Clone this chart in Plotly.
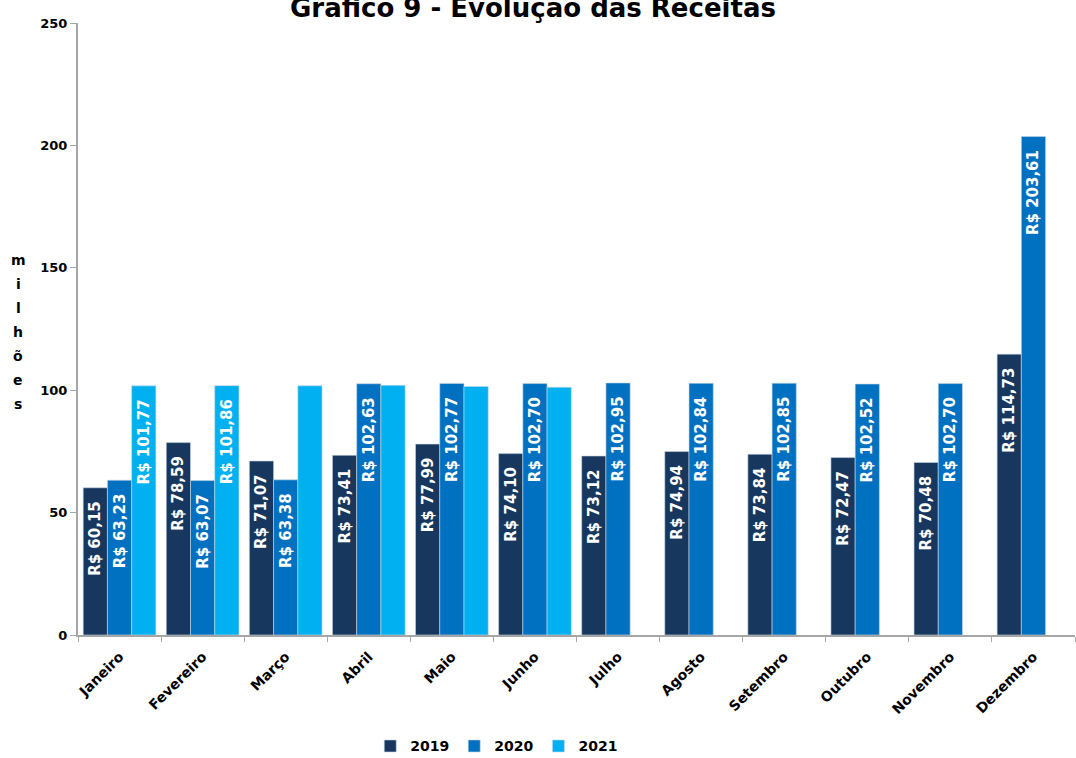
import plotly.graph_objects as go

meses = ["Janeiro", "Fevereiro", "Março", "Abril", "Maio", "Junho", "Julho",
         "Agosto", "Setembro", "Outubro", "Novembro", "Dezembro"]
v2019 = [60.15, 78.59, 71.07, 73.41, 77.99, 74.10, 73.12, 74.94, 73.84, 72.47, 70.48, 114.73]
v2020 = [63.23, 63.07, 63.38, 102.63, 102.77, 102.70, 102.95, 102.84, 102.85, 102.52, 102.70, 203.61]
v2021 = [101.77, 101.86, 101.8, 102.0, 101.5, 101.2, None, None, None, None, None, None]
lab2021 = [True, True, False, False, False, False, False, False, False, False, False, False]
eixo_y_titulo = "milhões"

cores = {"2019": "#17375E", "2020": "#0070C0", "2021": "#00B0F0"}

def fmt(v):
    return "R$ " + f"{v:.2f}".replace(".", ",") + "\u00a0\u00a0"

W, H = 1076, 758
ML, MR, MT, MB = 78, 1, 23, 123

fig = go.Figure()
for nome, vals, show in [("2019", v2019, None), ("2020", v2020, None), ("2021", v2021, lab2021)]:
    texts = []
    for i, v in enumerate(vals):
        if v is None or (show is not None and not show[i]):
            texts.append("")
        else:
            texts.append(fmt(v))
    fig.add_trace(go.Bar(
        name=nome, x=meses, y=vals, text=texts,
        textposition="inside", insidetextanchor="end", textangle=-90,
        textfont=dict(color="white", size=15, family="DejaVu Sans", weight="bold"),
        marker=dict(color=cores[nome], line=dict(color="rgba(200,215,230,0.6)", width=1)),
        cliponaxis=False,
    ))

fig.update_layout(
    width=W, height=H,
    margin=dict(l=ML, r=MR, t=MT, b=MB, autoexpand=False),
    barmode="group", bargap=0.125, bargroupgap=0,
    plot_bgcolor="white", paper_bgcolor="white",
    font=dict(family="DejaVu Sans", color="black"),
    uniformtext=dict(minsize=8, mode=False),
    showlegend=True,
    legend=dict(orientation="h", x=0.42, xanchor="center", y=-0.182, yanchor="middle",
                font=dict(size=14, family="DejaVu Sans", weight="bold"), traceorder="normal",
                itemwidth=30),
)
fig.update_xaxes(
    type="category", showline=True, linecolor="#A6A6A6", linewidth=2,
    ticks="outside", tickson="boundaries", ticklen=5, tickcolor="#A6A6A6",
    tickangle=-45, tickfont=dict(size=14, family="DejaVu Sans", color="black", weight="bold"),
    ticklabelstandoff=6,
    showgrid=False, automargin=False,
)
fig.update_yaxes(
    range=[0, 250], tickvals=[0, 50, 100, 150, 200, 250],
    showline=True, linecolor="#A6A6A6", linewidth=2,
    ticks="outside", ticklen=6, tickcolor="#A6A6A6",
    tickfont=dict(size=13, family="DejaVu Sans", color="black", weight="bold"),
    showgrid=False, zeroline=False, automargin=False,
)
fig.add_annotation(
    text="<b>Gráfico 9 - Evolução das Receitas</b>", xref="paper", yref="paper",
    x=0.456, y=1.0, yshift=15, xanchor="center", yanchor="middle", showarrow=False,
    font=dict(size=26, family="DejaVu Sans", color="black"),
)
plot_h = H - MT - MB
for k, ch in enumerate(eixo_y_titulo):
    ypx = 260 + 24 * k
    fig.add_annotation(
        text="<b>" + ch + "</b>", xref="paper", yref="paper",
        x=(18 - ML) / (W - ML - MR), y=(H - MB - ypx) / plot_h,
        xanchor="center", yanchor="middle", showarrow=False,
        font=dict(size=14, family="DejaVu Sans", color="black"),
    )
fig.write_html("out.html", config={"displayModeBar": False},
               post_script="document.body.style.margin='0';document.body.style.overflow='hidden';")
